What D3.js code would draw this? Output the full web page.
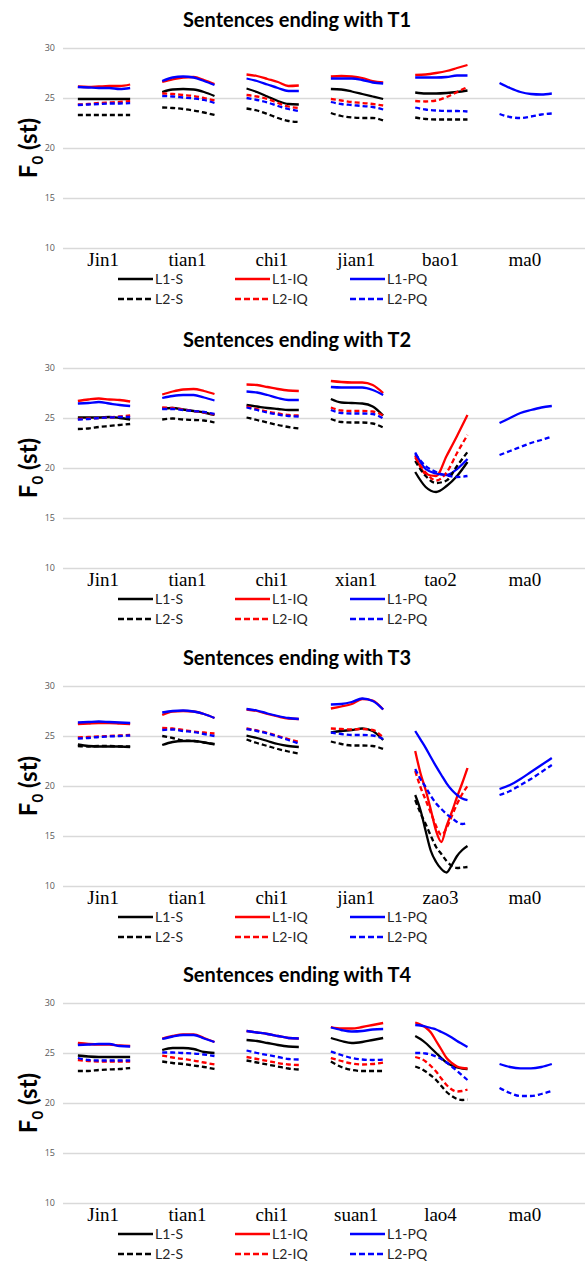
<!DOCTYPE html>
<html><head><meta charset="utf-8">
<script src="https://cdn.jsdelivr.net/npm/d3@7"></script>
<style>body{margin:0;background:#fff}svg{display:block}</style>
</head><body><div id="chart"></div>
<script>
// ---------- data ----------
const titles = ["Sentences ending with T1","Sentences ending with T2","Sentences ending with T3","Sentences ending with T4"];
const catsT1 = ["Jin1","tian1","chi1","jian1","bao1","ma0"];
const catsT2 = ["Jin1","tian1","chi1","xian1","tao2","ma0"];
const catsT3 = ["Jin1","tian1","chi1","jian1","zao3","ma0"];
const catsT4 = ["Jin1","tian1","chi1","suan1","lao4","ma0"];
const seriesNames = ["L1-S","L1-IQ","L1-PQ","L2-S","L2-IQ","L2-PQ"];
const seriesColors = ["#000000","#ff0000","#0000ff","#000000","#ff0000","#0000ff"];
const seriesDashed = [false,false,false,true,true,true];
const yTicks = [10,15,20,25,30];

// T1 panel: one array per syllable (null = not present)
const t1_L1S  = [[24.9,24.9,24.9,24.9,24.9,24.9],[25.6,25.85,25.9,25.85,25.6,25.2],[25.95,25.6,25.15,24.7,24.4,24.35],[25.9,25.85,25.65,25.4,25.15,24.9],[25.55,25.45,25.45,25.5,25.6,25.75],null];
const t1_L1IQ = [[26.15,26.1,26.15,26.2,26.2,26.35],[26.6,26.85,27.05,27.1,26.8,26.4],[27.35,27.2,26.9,26.6,26.2,26.25],[27.15,27.2,27.15,27.0,26.7,26.55],[27.3,27.35,27.5,27.7,28.0,28.3],null];
const t1_L1PQ = [[26.1,26.05,26.0,26.0,25.9,26.0],[26.7,27.05,27.15,27.05,26.7,26.3],[26.95,26.7,26.35,26.0,25.7,25.7],[26.95,26.95,26.95,26.8,26.55,26.45],[27.05,27.05,27.05,27.1,27.25,27.25],[26.5,26.0,25.6,25.4,25.35,25.45]];
const t1_L2S  = [[23.3,23.3,23.3,23.3,23.3,23.3],[24.05,24.0,23.9,23.75,23.55,23.3],[23.95,23.75,23.4,23.0,22.7,22.6],[23.5,23.2,23.05,23.0,23.0,22.75],[23.05,22.9,22.85,22.85,22.85,22.85],null];
const t1_L2IQ = [[24.35,24.4,24.5,24.55,24.6,24.7],[25.45,25.4,25.3,25.2,25.0,24.75],[25.3,25.15,24.9,24.5,24.15,24.0],[24.9,24.75,24.6,24.5,24.4,24.25],[24.7,24.65,24.75,25.1,25.6,26.1],null];
const t1_L2PQ = [[24.3,24.35,24.4,24.45,24.45,24.5],[25.2,25.15,25.05,24.95,24.8,24.5],[25.0,24.8,24.55,24.2,23.9,23.7],[24.6,24.4,24.3,24.2,24.1,23.85],[24.05,23.85,23.75,23.7,23.7,23.65],[23.4,23.1,23.0,23.15,23.35,23.45]];

// T2 panel
const t2_L1S  = [[25.05,25.05,25.05,25.1,25.0,24.85],[25.95,26.0,25.85,25.7,25.55,25.3],[26.3,26.15,26.0,25.9,25.8,25.8],[26.9,26.55,26.5,26.45,26.15,25.25],[19.6,18.1,17.6,18.2,19.2,20.6],null];
const t2_L1IQ = [[26.7,26.85,26.95,26.85,26.8,26.65],[27.35,27.65,27.85,27.9,27.7,27.4],[28.35,28.3,28.1,27.9,27.75,27.7],[28.7,28.6,28.55,28.55,28.3,27.5],[21.25,19.4,19.2,21.2,23.2,25.3],null];
const t2_L1PQ = [[26.45,26.5,26.6,26.45,26.3,26.2],[27.0,27.2,27.3,27.3,27.05,26.75],[27.65,27.55,27.3,27.0,26.8,26.8],[28.1,28.05,28.05,28.05,27.8,27.3],[21.55,19.9,19.45,19.3,19.9,20.9],[24.5,25.0,25.5,25.8,26.05,26.2]];
const t2_L2S  = [[23.9,23.95,24.1,24.2,24.3,24.4],[24.85,24.95,24.85,24.8,24.75,24.55],[25.05,24.8,24.55,24.3,24.1,23.95],[24.9,24.6,24.55,24.55,24.45,24.05],[20.7,19.2,18.5,18.75,20.2,21.6],null];
const t2_L2IQ = [[24.9,24.95,25.0,25.05,25.15,25.25],[26.05,26.0,25.85,25.7,25.55,25.35],[26.15,25.9,25.65,25.45,25.3,25.25],[26.05,25.75,25.7,25.7,25.65,25.25],[21.05,19.55,18.75,19.55,21.5,23.3],null];
const t2_L2PQ = [[24.85,24.9,25.0,25.05,25.1,25.1],[25.9,25.9,25.8,25.7,25.6,25.4],[26.05,25.8,25.55,25.35,25.2,25.15],[25.8,25.5,25.45,25.45,25.4,24.95],[21.4,20.2,19.6,19.25,19.1,19.2],[21.3,21.7,22.1,22.5,22.8,23.15]];

// T3 panel
const t3_L1S  = [[24.15,24.0,23.95,23.95,23.95,23.9],[24.1,24.4,24.5,24.5,24.35,24.15],[25.05,24.8,24.5,24.2,24.0,23.9],[25.35,25.5,25.6,25.75,25.5,24.6],[19.1,17.6,15.5,13.5,12.4,11.7,11.35,12.1,13.0,13.6,14.0],null];
const t3_L1IQ = [[26.2,26.25,26.3,26.3,26.25,26.2],[27.1,27.45,27.5,27.45,27.2,26.8],[27.65,27.5,27.2,26.95,26.75,26.7],[27.75,27.95,28.2,28.7,28.55,27.65],[23.5,21.3,19.6,17.6,15.5,14.4,16.0,17.4,18.9,20.3,21.8],null];
const t3_L1PQ = [[26.35,26.4,26.45,26.4,26.35,26.3],[27.35,27.5,27.55,27.45,27.2,26.8],[27.7,27.55,27.25,27.0,26.8,26.7],[28.15,28.2,28.4,28.75,28.5,27.65],[25.5,24.66,23.82,22.87,21.96,21.1,20.27,19.6,19.1,18.75,18.58],[19.7,20.1,20.7,21.4,22.1,22.8]];
const t3_L2S  = [[24.0,23.95,24.0,24.0,23.95,23.95],[25.0,24.8,24.55,24.5,24.35,24.2],[24.65,24.3,24.0,23.7,23.45,23.25],[24.45,24.2,24.05,24.05,24.0,23.7],[18.6,17.3,16.2,15.0,13.9,13.2,12.5,12.0,11.8,11.85,11.9],null];
const t3_L2IQ = [[24.85,24.9,24.95,25.0,25.05,25.1],[25.8,25.75,25.6,25.45,25.35,25.25],[25.75,25.55,25.3,25.0,24.7,24.4],[25.75,25.7,25.65,25.7,25.6,24.85],[21.5,19.9,18.6,17.3,16.0,15.1,15.8,17.0,18.2,19.2,20.0],null];
const t3_L2PQ = [[24.75,24.8,24.9,24.95,25.0,25.05],[25.6,25.65,25.5,25.4,25.2,25.0],[25.7,25.5,25.25,24.95,24.6,24.25],[25.35,25.2,25.1,25.1,25.05,24.7],[21.7,20.7,19.9,19.0,18.25,17.7,17.2,16.8,16.4,16.2,16.3],[19.1,19.5,20.1,20.7,21.4,22.1]];

// T4 panel
const t4_L1S  = [[24.75,24.65,24.6,24.6,24.6,24.6],[25.3,25.5,25.5,25.4,25.1,25.0],[26.3,26.2,26.0,25.8,25.65,25.6],[26.5,26.2,26.0,26.1,26.3,26.5],[26.7,26.4,26.0,25.5,25.0,24.5,24.05,23.75,23.55,23.45,23.4],null];
const t4_L1IQ = [[26.0,25.9,25.85,25.85,25.75,25.7],[26.45,26.7,26.85,26.85,26.5,26.1],[27.2,27.05,26.9,26.7,26.5,26.45],[27.6,27.45,27.45,27.6,27.8,28.0],[28.05,27.85,27.55,27.05,26.2,25.35,24.5,24.0,23.65,23.5,23.45],null];
const t4_L1PQ = [[25.8,25.85,25.9,25.9,25.7,25.65],[26.4,26.65,26.8,26.8,26.45,26.1],[27.2,27.05,26.9,26.7,26.5,26.45],[27.55,27.3,27.15,27.2,27.35,27.4],[27.8,27.75,27.65,27.5,27.35,27.1,26.85,26.55,26.2,25.9,25.6],[23.9,23.6,23.47,23.47,23.6,23.9]];
const t4_L2S  = [[23.2,23.2,23.3,23.35,23.4,23.5],[24.15,24.0,23.9,23.75,23.6,23.4],[24.25,24.05,23.85,23.65,23.45,23.35],[24.15,23.6,23.3,23.2,23.2,23.2],[23.65,23.45,23.15,22.75,22.3,21.7,21.1,20.7,20.4,20.3,20.35],null];
const t4_L2IQ = [[24.3,24.2,24.15,24.15,24.15,24.15],[24.75,24.55,24.4,24.25,24.05,23.85],[24.6,24.4,24.2,24.0,23.85,23.8],[24.5,24.2,23.95,23.85,23.9,24.05],[24.6,24.45,24.15,23.7,23.15,22.45,21.8,21.35,21.15,21.2,21.35],null];
const t4_L2PQ = [[24.5,24.3,24.25,24.25,24.25,24.25],[25.05,25.05,25.0,24.95,24.85,24.7],[25.25,25.0,24.8,24.6,24.4,24.35],[25.15,24.8,24.5,24.35,24.3,24.35],[25.0,25.0,24.95,24.85,24.65,24.4,24.05,23.65,23.2,22.75,22.3],[21.5,21.0,20.7,20.7,20.9,21.2]];

const panels = [
  {title: titles[0], cats: catsT1, series: [t1_L1S,t1_L1IQ,t1_L1PQ,t1_L2S,t1_L2IQ,t1_L2PQ]},
  {title: titles[1], cats: catsT2, series: [t2_L1S,t2_L1IQ,t2_L1PQ,t2_L2S,t2_L2IQ,t2_L2PQ]},
  {title: titles[2], cats: catsT3, series: [t3_L1S,t3_L1IQ,t3_L1PQ,t3_L2S,t3_L2IQ,t3_L2PQ]},
  {title: titles[3], cats: catsT4, series: [t4_L1S,t4_L1IQ,t4_L1PQ,t4_L2S,t4_L2IQ,t4_L2PQ]}
];

// ---------- layout ----------
const W = 585, H = 1264;
const panelTops = [48, 368, 686, 1003];
const plotH = 200;
const gridX0 = 63, gridX1 = 585;
const bandX0 = 61, bandX1 = 567;

const svg = d3.select("#chart").append("svg").attr("width", W).attr("height", H);

panels.forEach((p, pi) => {
  const top = panelTops[pi];
  const g = svg.append("g");
  const y = d3.scaleLinear().domain([10, 30]).range([top + plotH, top]);
  const x = d3.scaleBand().domain(p.cats).range([bandX0, bandX1]);
  const bw = x.bandwidth();

  // title
  g.append("text").attr("x", 297).attr("y", top - 21)
    .attr("text-anchor", "middle").attr("font-family", "Lato, 'Open Sans', sans-serif")
    .attr("font-weight", "bold").attr("font-size", 20).attr("fill", "#000").text(p.title);

  // y axis with gridlines
  const ya = g.append("g").attr("transform", `translate(${gridX0},0)`)
    .call(d3.axisLeft(y).tickValues(yTicks).tickSize(-(gridX1 - gridX0)).tickPadding(8));
  ya.select(".domain").remove();
  ya.selectAll(".tick line").attr("stroke", "#d9d9d9").attr("stroke-width", 1.3);
  ya.selectAll(".tick text").attr("font-family", "'Open Sans', sans-serif").attr("font-size", 9).attr("fill", "#595959");

  // y axis title
  const yt = g.append("text")
    .attr("transform", `translate(37,${top + plotH / 2}) rotate(-90)`)
    .attr("text-anchor", "middle").attr("font-family", "Lato, 'Open Sans', sans-serif")
    .attr("font-weight", "bold").attr("font-size", 24).attr("fill", "#000");
  yt.append("tspan").text("F");
  yt.append("tspan").attr("font-size", 15).attr("dy", 6).text("0");
  yt.append("tspan").attr("dy", -6).text(" (st)");

  // x axis category labels
  const xa = g.append("g").attr("transform", `translate(0,${top + plotH})`)
    .call(d3.axisBottom(x).tickSize(0).tickPadding(5));
  xa.select(".domain").remove();
  xa.selectAll(".tick text").attr("font-family", "'Liberation Serif', 'Times New Roman', serif")
    .attr("font-size", 19).attr("fill", "#000");

  // lines
  const line = d3.line().curve(d3.curveMonotoneX).x(d => d[0]).y(d => y(d[1]));
  p.series.forEach((segs, si) => {
    segs.forEach((vals, ci) => {
      if (!vals) return;
      const sub = d3.scaleLinear().domain([0, vals.length - 1])
        .range([x(p.cats[ci]) + bw * 0.2, x(p.cats[ci]) + bw * 0.82]);
      g.append("path").datum(vals.map((v, i) => [sub(i), v]))
        .attr("d", line).attr("fill", "none")
        .attr("stroke", seriesColors[si]).attr("stroke-width", 2.3)
        .attr("stroke-dasharray", seriesDashed[si] ? "5,3" : null);
    });
  });

  // legend
  const legCols = [118, 235, 350];
  const legRows = [top + plotH + 31, top + plotH + 51];
  seriesNames.forEach((name, si) => {
    const cx = legCols[si % 3], cy = legRows[Math.floor(si / 3)];
    g.append("line").attr("x1", cx).attr("x2", cx + 35).attr("y1", cy).attr("y2", cy)
      .attr("stroke", seriesColors[si]).attr("stroke-width", 2.5)
      .attr("stroke-dasharray", seriesDashed[si] ? "6,3" : null);
    g.append("text").attr("x", cx + 37).attr("y", cy + 5)
      .attr("font-family", "Lato, 'Open Sans', sans-serif").attr("font-size", 14)
      .attr("fill", "#262626").text(name);
  });
});
</script></body></html>
